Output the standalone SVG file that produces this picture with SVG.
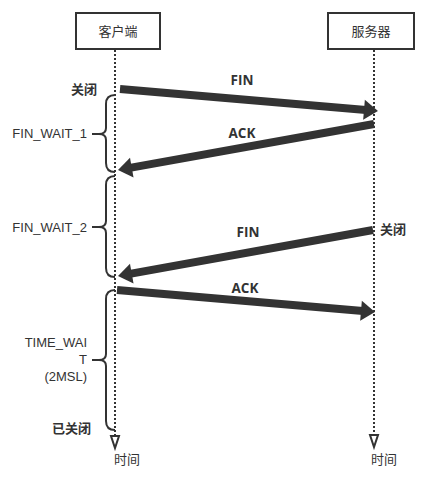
<svg xmlns="http://www.w3.org/2000/svg" width="424" height="477" viewBox="0 0 424 477">
<style>
.box{fill:#fff;stroke:#333;stroke-width:2}
.life{stroke:#333;stroke-width:2;stroke-dasharray:2,2;fill:none}
.arr{stroke:#333;stroke-width:8;fill:none}
.brace{stroke:#333;stroke-width:2;fill:none}
.tri{fill:#fff;stroke:#333;stroke-width:2}
.cjk{font-family:"Noto Sans CJK SC","Noto Sans",sans-serif;fill:#333;font-size:13px}
.b{font-weight:bold}
.lbl{font-family:"Open Sans","Noto Sans",sans-serif;font-weight:bold;font-size:13.5px;fill:#333}
.st{font-family:"Liberation Sans",Arial,sans-serif;font-size:13px;fill:#333}
</style>
<defs>
<marker id="ah" markerUnits="userSpaceOnUse" markerWidth="22" markerHeight="22" viewBox="-2 -11 20 22" refX="0" refY="0" orient="auto">
<path d="M-2,-10 L12,0 L-2,10 Z" fill="#333"/>
</marker>
</defs>
<g id="client">
<rect class="box" x="76" y="13" width="84" height="36"/>
<text class="cjk" x="118" y="36" text-anchor="middle">客户端</text>
</g>
<g id="server">
<rect class="box" x="328" y="13" width="86" height="36"/>
<text class="cjk" x="371" y="36" text-anchor="middle">服务器</text>
</g>
<g id="lifelines">
<line class="life" x1="115" y1="50" x2="115" y2="435"/>
<line class="life" x1="374" y1="50" x2="374" y2="434"/>
<path class="tri" d="M111,436 L119,436 L115,448 Z"/>
<path class="tri" d="M370,435 L378,435 L374,447 Z"/>
<text class="cjk" x="114" y="464">时间</text>
<text class="cjk" x="371" y="464">时间</text>
</g>
<g id="connectors">
<line class="arr" x1="120" y1="89" x2="366" y2="110" marker-end="url(#ah)"/>
<line class="arr" x1="374" y1="124" x2="129.8" y2="167.9" marker-end="url(#ah)"/>
<line class="arr" x1="373" y1="230" x2="129.8" y2="273.9" marker-end="url(#ah)"/>
<line class="arr" x1="117" y1="290" x2="363" y2="311" marker-end="url(#ah)"/>
<text class="lbl" x="242" y="85" text-anchor="middle">FIN</text>
<text class="lbl" x="242" y="138" text-anchor="middle">ACK</text>
<text class="lbl" x="248" y="237" text-anchor="middle">FIN</text>
<text class="lbl" x="245" y="293" text-anchor="middle">ACK</text>
</g>
<g id="states">
<path class="brace" d="M115,95 Q106,95 106,104 L106,128 Q106,134 99,134 L92,134 M99,134 Q106,134 106,140 L106,163 Q106,172 115,172"/>
<path class="brace" d="M115,176 Q106,176 106,185 L106,221 Q106,227 99,227 L92,227 M99,227 Q106,227 106,233 L106,268 Q106,277 115,277"/>
<path class="brace" d="M115,290 Q106,290 106,299 L106,354 Q106,360 99,360 L92,360 M99,360 Q106,360 106,366 L106,421 Q106,430 115,430"/>
<text class="st" x="87" y="138" text-anchor="end">FIN_WAIT_1</text>
<text class="st" x="87" y="232" text-anchor="end">FIN_WAIT_2</text>
<text class="st" text-anchor="end"><tspan x="87" y="347">TIME_WAI</tspan><tspan x="87" y="364">T</tspan><tspan x="87" y="381">(2MSL)</tspan></text>
<text class="cjk b" x="97" y="94" text-anchor="end" font-size="12">关闭</text>
<text class="cjk b" x="380" y="234" font-size="12">关闭</text>
<text class="cjk b" x="91" y="433" text-anchor="end" font-size="12">已关闭</text>
</g>
</svg>
